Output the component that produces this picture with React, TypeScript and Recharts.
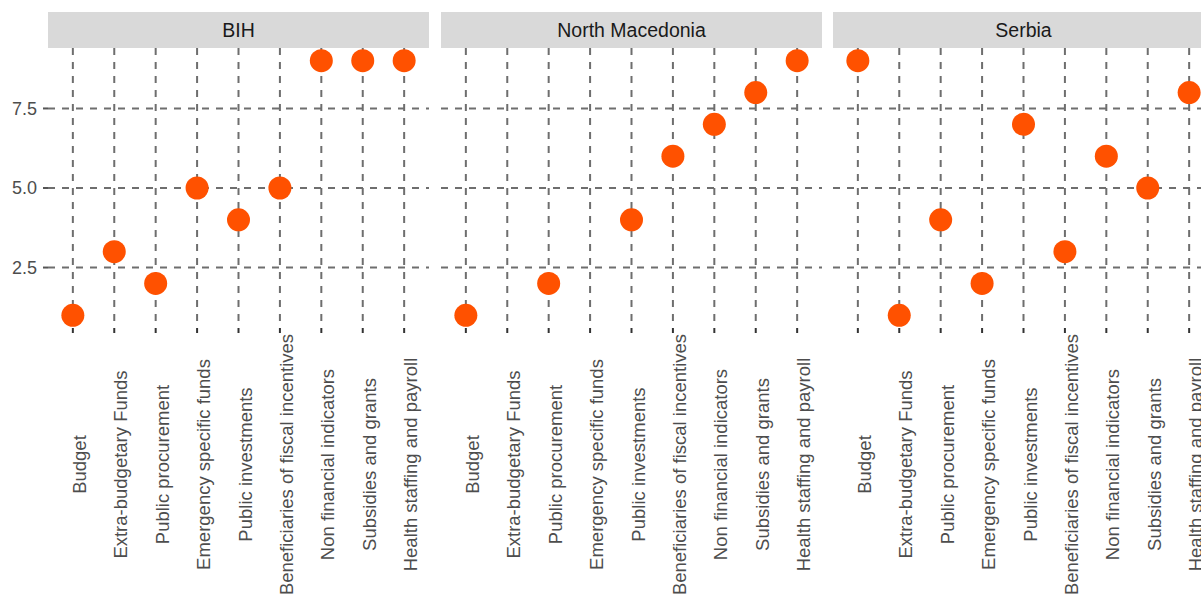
import React from "react";
import { ScatterChart, Scatter, XAxis, YAxis, CartesianGrid } from "recharts";

const categories = [
  "Budget",
  "Extra-budgetary Funds",
  "Public procurement",
  "Emergency specific funds",
  "Public investments",
  "Beneficiaries of fiscal incentives",
  "Non financial indicators",
  "Subsidies and grants",
  "Health staffing and payroll",
];

const countries = ["BIH", "North Macedonia", "Serbia"];

// rank per category, null where the country has no point
const bihValues = [1, 3, 2, 5, 4, 5, 9, 9, 9];
const northMacedoniaValues = [1, null, 2, null, 4, 6, 7, 8, 9];
const serbiaValues = [9, 1, 4, 2, 7, 3, 6, 5, 8];

const yTicks = [2.5, 5, 7.5];
const xTicks = categories.map((_, i) => i + 1);
const xDomain = [0.4, 9.6];
const yDomain = [0.6, 9.4];

const FONT = "'Liberation Sans', Arial, sans-serif";
const POINT = "#ff5100";
const GRID = "#6e6e6e";
const STRIP_TOP = 12;
const PANEL_TOP = 48;
const PANEL_H = 280;
const PANEL_W = 381;
const AXIS_W = 48;
const HEIGHT = 597;
const LABEL_MID = 464.5;

const panelLefts = [48, 441, 833];

function toRows(values: (number | null)[]) {
  return values
    .map((v, i) => ({ idx: i + 1, value: v, name: categories[i] }))
    .filter((d) => d.value !== null);
}

const panelData = [toRows(bihValues), toRows(northMacedoniaValues), toRows(serbiaValues)];

// grid only at the ticks, no lines on the panel border
function vertLines({ xAxis, offset }: any) {
  if (xAxis && typeof xAxis.scale === "function") return xTicks.map((t) => xAxis.scale(t));
  return xTicks.map(
    (t) => offset.left + ((t - xDomain[0]) / (xDomain[1] - xDomain[0])) * offset.width
  );
}

function horizLines({ yAxis, offset }: any) {
  if (yAxis && typeof yAxis.scale === "function") return yTicks.map((t) => yAxis.scale(t));
  return yTicks.map(
    (t) => offset.top + ((yDomain[1] - t) / (yDomain[1] - yDomain[0])) * offset.height
  );
}

function CategoryTick(props: any) {
  const { x, payload } = props;
  const bx = x + 13;
  return (
    <text
      x={bx}
      y={LABEL_MID}
      transform={`rotate(-90, ${bx}, ${LABEL_MID})`}
      textAnchor="middle"
      fill="#4d4d4d"
      fontSize={18.5}
      fontFamily={FONT}
    >
      {categories[payload.value - 1]}
    </text>
  );
}

function Dot(props: any) {
  return <circle cx={props.cx} cy={props.cy} r={11.5} fill={POINT} />;
}

function Panel({ index }: { index: number }) {
  const first = index === 0;
  const left = first ? 0 : panelLefts[index];
  const width = first ? AXIS_W + PANEL_W : PANEL_W;
  return (
    <div style={{ position: "absolute", left, top: 0 }}>
      <ScatterChart
        width={width}
        height={HEIGHT}
        margin={{ top: PANEL_TOP, right: 0, bottom: 0, left: 0 }}
      >
        <CartesianGrid
          stroke={GRID}
          strokeWidth={2}
          strokeDasharray="7 7"
          verticalCoordinatesGenerator={vertLines}
          horizontalCoordinatesGenerator={horizLines}
        />
        <XAxis
          type="number"
          dataKey="idx"
          domain={xDomain}
          ticks={xTicks}
          interval={0}
          allowDataOverflow
          axisLine={false}
          tickLine={{ stroke: "#333333", strokeWidth: 2 }}
          tickSize={5}
          height={HEIGHT - PANEL_TOP - PANEL_H}
          tick={<CategoryTick />}
        />
        <YAxis
          type="number"
          dataKey="value"
          domain={yDomain}
          ticks={yTicks}
          allowDataOverflow
          hide={!first}
          width={AXIS_W}
          axisLine={false}
          tickLine={{ stroke: "#555555", strokeWidth: 2 }}
          tickSize={5}
          tickMargin={6}
          tickFormatter={(v: number) => v.toFixed(1)}
          tick={{ fill: "#4d4d4d", fontSize: 18, fontFamily: FONT }}
        />
        <Scatter
          data={panelData[index]}
          fill={POINT}
          shape={<Dot />}
          isAnimationActive={false}
        />
      </ScatterChart>
    </div>
  );
}

export default function App() {
  return (
    <div
      style={{
        position: "absolute",
        left: 0,
        top: 0,
        width: 1201,
        height: HEIGHT,
        overflow: "hidden",
        background: "#ffffff",
      }}
    >
      {countries.map((c, i) => (
        <div
          key={c}
          style={{
            position: "absolute",
            left: panelLefts[i],
            top: STRIP_TOP,
            width: PANEL_W,
            height: PANEL_TOP - STRIP_TOP,
            background: "#d9d9d9",
            color: "#1a1a1a",
            fontFamily: FONT,
            fontSize: 19.5,
            display: "flex",
            alignItems: "center",
            justifyContent: "center",
            zIndex: 2,
          }}
        >
          {c}
        </div>
      ))}
      {countries.map((c, i) => (
        <Panel key={c} index={i} />
      ))}
    </div>
  );
}
